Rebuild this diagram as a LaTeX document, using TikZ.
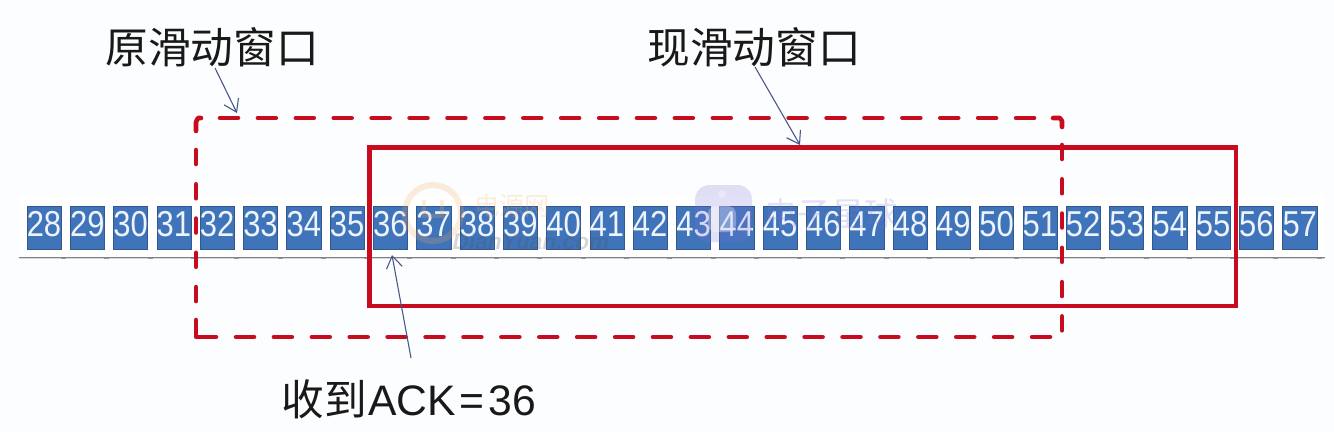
\documentclass[tikz,border=0pt]{standalone}
\usepackage{graphicx}
\usepackage{fontspec}
\setmainfont{Liberation Sans}
\newfontfamily\cjk{Noto Sans CJK SC}
\usetikzlibrary{arrows.meta}
\definecolor{cellblue}{RGB}{64,116,186}
\definecolor{celledge}{RGB}{50,88,140}
\definecolor{winred}{RGB}{200,12,32}
\definecolor{arrowblue}{RGB}{70,85,135}
\definecolor{paper}{RGB}{252,253,254}
\definecolor{digit}{RGB}{238,244,252}
\definecolor{wmorange}{RGB}{245,170,90}
\definecolor{wmviolet}{RGB}{125,115,215}
\tikzset{
  x=0.75pt,y=-0.75pt,
  cell/.style={fill=cellblue,draw=celledge,line width=0.4pt,minimum width=25.6pt,minimum height=32.4pt,inner sep=0pt},
  cardstyle/.style={fill=white,draw=none},
  digits/.style={text=digit,inner sep=0pt,font=\fontsize{27pt}{27pt}\selectfont},
  winsolid/.style={draw=winred,line width=3.2pt,line join=miter},
  hdash/.style={draw=winred,line width=3.4pt,line cap=round,dash pattern=on 13.5pt off 14.93pt},
  vdash/.style={draw=winred,line width=3.4pt,line cap=round,dash pattern=on 10.5pt off 15.2pt},
  corner/.style={draw=winred,line width=3.4pt,line cap=round,line join=round},
  pointer/.style={draw=arrowblue,line width=0.8pt,-{Straight Barb[length=9pt,width=12pt,line width=0.8pt]}},
  caption/.style={font=\fontsize{32pt}{32pt}\selectfont\cjk,text=black!90,inner sep=0pt},
}
\begin{document}
\begin{tikzpicture}
\useasboundingbox[fill=paper] (0,0) rectangle (1334,432);
% card strip
\fill[cardstyle] (19,196) rectangle (1325,257);
\coordinate (stripL) at (19,257);
\coordinate (stripR) at (1325,257);
\draw[black!15,line width=1.6pt] ([yshift=-0.6pt]stripL) -- ([yshift=-0.6pt]stripR);
\draw[black!50,line width=0.7pt] (stripL) -- (stripR);
\foreach \n [count=\i from 0] in {28,...,57}{
  \node[cell] (c\n) at ({44+43.3*\i},227.5) {};
  \node[digits] (t\n) at ({44+43.3*\i},224) {\scalebox{0.86}[1]{\n}};
  \draw[black!40,line width=0.6pt] ({61+43.3*\i},258.5) -- ({66+43.3*\i},258.5);
}
% faint watermarks
\begin{scope}[opacity=0.22]
  \draw[wmorange,line width=4.5pt] (433,213) circle (28);
  \draw[wmorange,line width=3pt] (424,200) -- (424,216) -- (442,216) -- (442,200);
  \node[inner sep=0pt,text=wmorange,font=\fontsize{19pt}{19pt}\selectfont\cjk] (wma) at (512,206) {电源网};
  \node[inner sep=0pt,text=black!70,font=\fontsize{17pt}{17pt}\selectfont\bfseries\itshape] (wmb) at (531,241) {DianYuan.com};
  \fill[wmviolet,rounded corners=11pt] (695,185) rectangle (752,242);
  \node[inner sep=0pt,text=wmviolet,font=\fontsize{25pt}{25pt}\selectfont\cjk] (wmc) at (831,214) {电子星球};
\end{scope}
\begin{scope}[opacity=0.3]
  \fill[white] (722,194) circle (4);
  \fill[white,rounded corners=6pt] (708,206) rectangle (736,232);
\end{scope}
% old window, dashed
\draw[hdash] (220,118) -- (1036,118);
\draw[hdash] (236,337) -- (1050,337);
\draw[vdash] (196,150) -- (196,302);
\draw[vdash] (1062,145) -- (1062,331);
\draw[corner] (196,131) -- (196,122) -- (198,118) -- (201,118);
\draw[corner] (196,320) -- (196,337) -- (216,337);
\draw[corner] (1053,118) -- (1060,118) -- (1062,121) -- (1062,127);
% new window, solid
\coordinate (na) at (369.5,147.5);
\coordinate (nb) at (1236,147.5);
\coordinate (nc) at (1236,306);
\coordinate (nd) at (369.5,306);
\draw[winsolid] (na) -- (nb) -- (nc) -- (nd) -- cycle;
% captions
\node[caption] (old) at (212,47) {原滑动窗口};
\node[caption] (new) at (754,47) {现滑动窗口};
\node[caption,font=\fontsize{32pt}{32pt}\selectfont] (ack) at (409,399) {{\cjk 收到}\hspace{1pt}ACK\hspace{3pt}=\hspace{3pt}36};
% pointers
\coordinate (oldtip) at (237,113);
\coordinate (oldtail) at (215,68);
\coordinate (newtip) at (800,145);
\coordinate (newtail) at (755,67);
\coordinate (acktip) at (392,255);
\coordinate (acktail) at (411,358);
\draw[pointer] (oldtail) -- (oldtip);
\draw[pointer] (newtail) -- (newtip);
\draw[pointer] (acktail) -- (acktip);
\end{tikzpicture}
\end{document}
